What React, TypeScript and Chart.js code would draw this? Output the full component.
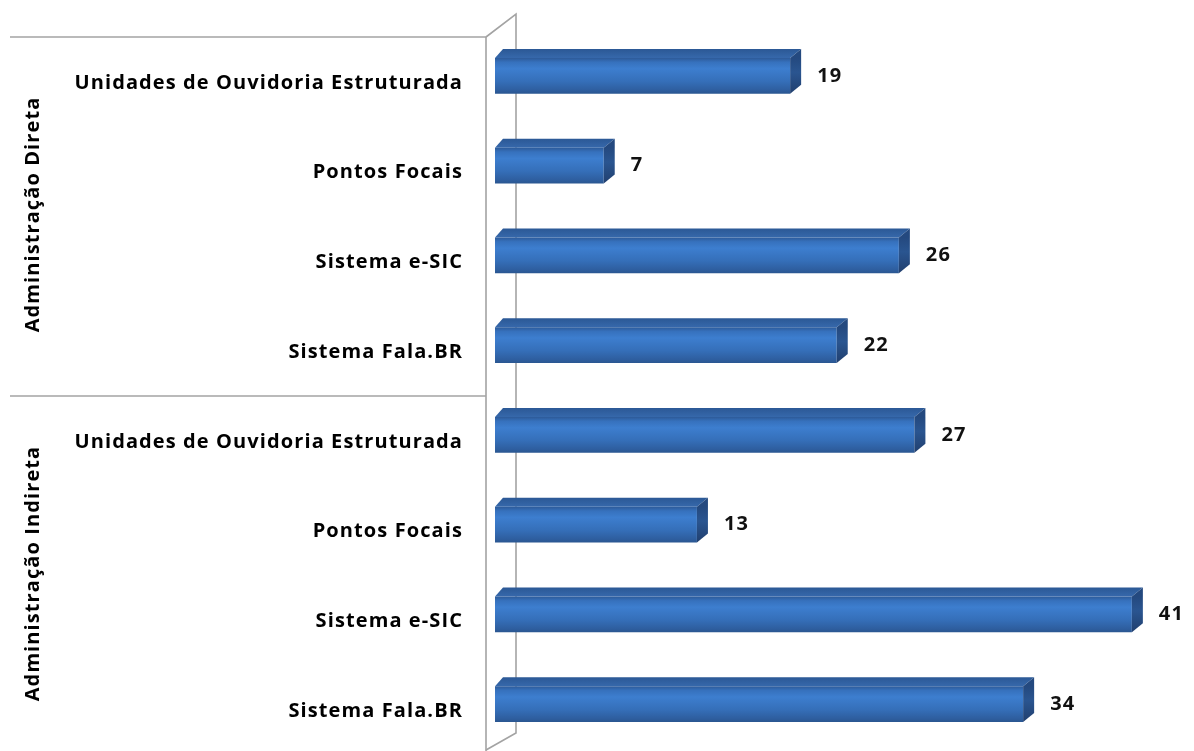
import React, { useEffect, useRef } from "react";
import { Chart, registerables } from "chart.js";

Chart.register(...registerables);

const categories = [
  "Unidades de Ouvidoria Estruturada",
  "Pontos Focais",
  "Sistema e-SIC",
  "Sistema Fala.BR",
  "Unidades de Ouvidoria Estruturada",
  "Pontos Focais",
  "Sistema e-SIC",
  "Sistema Fala.BR",
];
const values = [19, 7, 26, 22, 27, 13, 41, 34];
const groupLabels = ["Administração Direta", "Administração Indireta"];
const groupSizes = [4, 4];

const FONT = "'Open Sans', sans-serif";
const FSIZE = 20;
const LETTER = "1.1px";
const DX = 11;
const DY = -9;
const BAR_PCT = 0.4;

const frontGradient = (ctx: CanvasRenderingContext2D, top: number, bottom: number) => {
  const g = ctx.createLinearGradient(0, top, 0, bottom);
  g.addColorStop(0, "#2d5a98");
  g.addColorStop(0.12, "#3671bd");
  g.addColorStop(0.3, "#3d7ecf");
  g.addColorStop(0.65, "#356fb9");
  g.addColorStop(0.9, "#2e5e9f");
  g.addColorStop(1, "#2a5690");
  return g;
};

const threeD = {
  id: "threeD",
  beforeDraw(chart: any) {
    (chart.ctx as any).letterSpacing = LETTER;
  },
  beforeDatasetsDraw(chart: any) {
    const { ctx, chartArea, scales } = chart;
    const y = scales.y;
    const fx = chartArea.left - 9;
    const bx = chartArea.left + 21;
    const step = y.getPixelForValue(1) - y.getPixelForValue(0);
    const shift = 6;
    ctx.save();
    ctx.strokeStyle = "#a3a3a3";
    ctx.lineWidth = 1.6;
    // front wall
    ctx.beginPath();
    ctx.moveTo(fx, chartArea.top + shift);
    ctx.lineTo(fx, chart.height + 5);
    ctx.stroke();
    // back wall
    ctx.beginPath();
    ctx.moveTo(fx, chartArea.top + shift);
    ctx.lineTo(bx, chartArea.top - 17);
    ctx.lineTo(bx, chartArea.bottom - 16);
    ctx.lineTo(fx, chartArea.bottom + 1);
    ctx.stroke();
    // group lines and labels
    let start = 0;
    const bounds: number[] = [chartArea.top + shift];
    groupSizes.forEach((n) => {
      const end = start + n - 1;
      const yb = y.getPixelForValue(end) + step / 2 + shift;
      bounds.push(yb);
      start += n;
    });
    bounds.forEach((yb) => {
      ctx.beginPath();
      ctx.moveTo(10, yb);
      ctx.lineTo(fx, yb);
      ctx.stroke();
    });
    ctx.fillStyle = "#000";
    ctx.font = `bold ${FSIZE}px ${FONT}`;
    ctx.textAlign = "center";
    ctx.textBaseline = "middle";
    start = 0;
    groupSizes.forEach((n, gi) => {
      const y0 = y.getPixelForValue(start) - step / 2;
      const y1 = y.getPixelForValue(start + n - 1) + step / 2;
      const cy = (y0 + y1) / 2 + 4;
      ctx.save();
      ctx.translate(33, cy);
      ctx.rotate(-Math.PI / 2);
      ctx.fillText(groupLabels[gi], 0, 0);
      ctx.restore();
      start += n;
    });
    ctx.restore();
  },
  afterDatasetsDraw(chart: any) {
    const { ctx } = chart;
    const meta = chart.getDatasetMeta(0);
    ctx.save();
    meta.data.forEach((el: any, i: number) => {
      const top = el.y - el.height / 2;
      const bottom = el.y + el.height / 2;
      const x0 = el.base;
      const xe = el.x;
      // top face
      const tg = ctx.createLinearGradient(0, top + DY, 0, top);
      tg.addColorStop(0, "#2b5895");
      tg.addColorStop(1, "#3668ab");
      ctx.fillStyle = tg;
      ctx.beginPath();
      ctx.moveTo(x0, top);
      ctx.lineTo(x0 + DX - 3, top + DY);
      ctx.lineTo(xe + DX, top + DY);
      ctx.lineTo(xe, top);
      ctx.closePath();
      ctx.fill();
      // side face
      const sg = ctx.createLinearGradient(0, top, 0, bottom);
      sg.addColorStop(0, "#24497f");
      sg.addColorStop(0.4, "#2a5590");
      sg.addColorStop(1, "#213f6e");
      ctx.fillStyle = sg;
      ctx.beginPath();
      ctx.moveTo(xe, top);
      ctx.lineTo(xe + DX, top + DY);
      ctx.lineTo(xe + DX, bottom + DY);
      ctx.lineTo(xe, bottom);
      ctx.closePath();
      ctx.fill();
      // value label
      ctx.fillStyle = "#111";
      ctx.font = `bold ${FSIZE}px ${FONT}`;
      ctx.textAlign = "left";
      ctx.textBaseline = "middle";
      ctx.fillText(String(values[i]), xe + DX + 16, el.y);
    });
    ctx.restore();
  },
};

export default function App() {
  const ref = useRef<HTMLCanvasElement | null>(null);
  useEffect(() => {
    if (!ref.current) return;
    const chart = new Chart(ref.current, {
      type: "bar",
      data: {
        labels: categories,
        datasets: [
          {
            data: values,
            backgroundColor: (c: any) => {
              const ch = c.chart;
              const y = ch.scales && ch.scales.y;
              if (!y || !ch.chartArea || c.dataIndex == null) return "#3570b8";
              const center = y.getPixelForValue(c.dataIndex);
              const half = ((ch.chartArea.bottom - ch.chartArea.top) / categories.length) * BAR_PCT / 2;
              return frontGradient(ch.ctx, center - half, center + half);
            },
            borderWidth: 0,
            barPercentage: BAR_PCT,
            categoryPercentage: 1,
          },
        ],
      },
      options: {
        indexAxis: "y",
        animation: false,
        responsive: false,
        maintainAspectRatio: false,
        layout: { padding: { top: 31, bottom: 2, left: 0, right: 0 } },
        plugins: { legend: { display: false }, tooltip: { enabled: false } },
        scales: {
          x: { type: "linear", min: 0, max: 45, display: false },
          y: {
            type: "category",
            offset: true,
            grid: { display: false, drawTicks: false },
            border: { display: false },
            ticks: {
              autoSkip: false,
              color: "#000",
              padding: 32,
              labelOffset: 7,
              font: { family: FONT, size: FSIZE, weight: "bold" },
            },
            afterFit: (scale: any) => {
              scale.width = 495;
              scale.paddingTop = 0;
              scale.paddingBottom = 0;
            },
          },
        },
      },
      plugins: [threeD],
    } as any);
    return () => chart.destroy();
  }, []);
  return (
    <div style={{ position: "fixed", left: 0, top: 0, width: 1194, height: 751, background: "#fff" }}>
      <canvas ref={ref} width={1194} height={751} style={{ display: "block" }} />
    </div>
  );
}
